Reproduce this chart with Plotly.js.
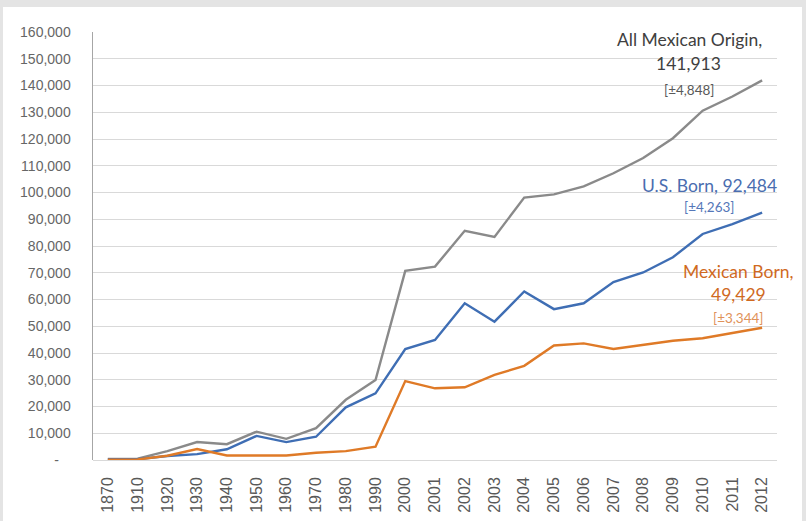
<!DOCTYPE html>
<html>
<head>
<meta charset="utf-8">
<script src="https://cdn.plot.ly/plotly-3.0.1.min.js"></script>
<style>
  html, body { margin: 0; padding: 0; background: #e4e4e4; width: 806px; height: 521px; overflow: hidden; }
  #chart { position: absolute; left: 3px; top: 7px; width: 799px; height: 514px; background: #ffffff; }
</style>
</head>
<body>
<div id="chart"></div>
<script>
const years = ["1870","1910","1920","1930","1940","1950","1960","1970","1980","1990",
  "2000","2001","2002","2003","2004","2005","2006","2007","2008","2009","2010","2011","2012"];
const allMexicanOrigin = [400, 500, 3300, 6700, 5900, 10600, 7900, 11900, 22500, 29900,
  70700, 72300, 85700, 83400, 98100, 99300, 102300, 107200, 112900, 120300, 130600, 135900, 141913];
const usBorn = [300, 300, 1500, 2200, 4000, 9000, 6700, 8700, 19700, 24900,
  41500, 44900, 58600, 51700, 63000, 56400, 58600, 66500, 70100, 75800, 84500, 88200, 92484];
const mexicanBorn = [100, 200, 1600, 4100, 1700, 1700, 1700, 2700, 3300, 5000,
  29500, 26800, 27200, 31800, 35200, 42800, 43600, 41500, 43000, 44600, 45500, 47600, 49429];
const yTickVals = [0,10000,20000,30000,40000,50000,60000,70000,80000,90000,100000,110000,120000,130000,140000,150000,160000];
const yTickText = ["-\u00a0\u00a0\u00a0","10,000","20,000","30,000","40,000","50,000","60,000","70,000","80,000","90,000","100,000","110,000","120,000","130,000","140,000","150,000","160,000"];

const cGray = "#8a8a8a", cBlue = "#3f6eb4", cOrange = "#df7a27";
const lw = 2.4;
const traces = [
  {x: years, y: allMexicanOrigin, type: "scatter", mode: "lines", name: "All Mexican Origin", line: {color: cGray, width: lw}},
  {x: years, y: usBorn, type: "scatter", mode: "lines", name: "U.S. Born", line: {color: cBlue, width: lw}},
  {x: years, y: mexicanBorn, type: "scatter", mode: "lines", name: "Mexican Born", line: {color: cOrange, width: lw}}
];

const labelFont = "Lato, 'Open Sans', sans-serif";
function ann(text, xi, yv, size, color) {
  return {text: text, x: xi, y: yv, xref: "x", yref: "y", showarrow: false,
    xanchor: "center", yanchor: "middle", font: {family: labelFont, size: size, color: color}};
}
const annotations = [
  ann("All Mexican Origin,", 19.56, 157100, 17.5, "#404040"),
  ann("141,913", 19.53, 148150, 17.5, "#404040"),
  ann("[±4,848]", 19.53, 138400, 13.5, "#595959"),
  ann("U.S. Born, 92,484", 20.24, 102500, 17.5, "#4a6db0"),
  ann("[±4,263]", 20.2, 94650, 13.5, "#5577b8"),
  ann("Mexican Born,", 21.2, 70330, 17.5, "#d06a1f"),
  ann("49,429", 21.2, 61730, 17.5, "#d06a1f"),
  ann("[±3,344]", 21.2, 53120, 13.5, "#e0925a")
];

const layout = {
  width: 799, height: 514,
  margin: {l: 90, r: 25, t: 25.3, b: 61},
  paper_bgcolor: "#ffffff", plot_bgcolor: "#ffffff",
  showlegend: false,
  font: {family: "'Noto Sans', 'Open Sans', sans-serif", color: "#595959"},
  xaxis: {
    type: "category", range: [-0.5, 22.5],
    tickangle: -90, tickfont: {size: 16, color: "#595959", family: "'Liberation Sans', Arial, sans-serif"},
    showgrid: false, showline: false, zeroline: false, ticks: "",
    ticklabelstandoff: 13, fixedrange: true
  },
  yaxis: {
    range: [0, 160000], tickvals: yTickVals, ticktext: yTickText,
    tickfont: {size: 14, color: "#666666", family: "'Liberation Sans', Arial, sans-serif"},
    showgrid: true, gridcolor: "#d9d9d9", gridwidth: 1,
    showline: true, linecolor: "#a6a6a6", linewidth: 1.5,
    zeroline: true, zerolinecolor: "#d9d9d9", zerolinewidth: 1,
    ticks: "", ticklabelstandoff: 18, fixedrange: true
  },
  annotations: annotations
};

Plotly.newPlot("chart", traces, layout, {displayModeBar: false, staticPlot: true});
</script>
</body>
</html>
